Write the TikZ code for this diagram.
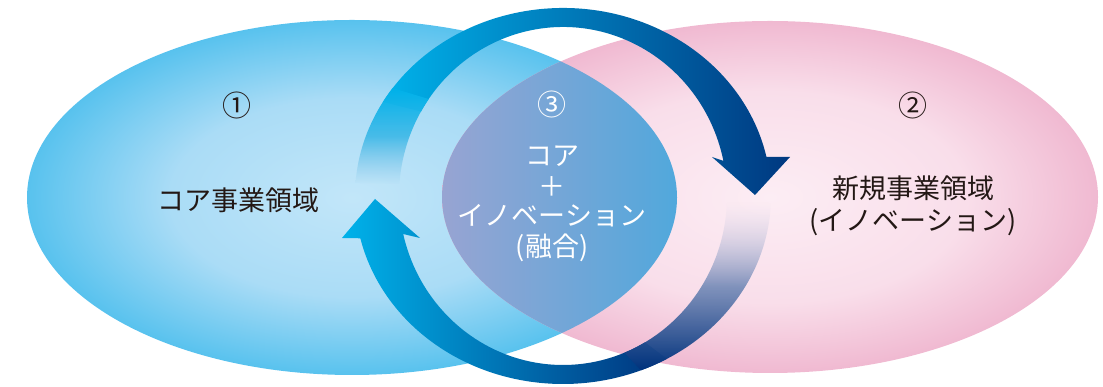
\documentclass[tikz,border=0pt]{standalone}
\usepackage{fontspec}
\setmainfont{Noto Sans CJK JP}
\usetikzlibrary{calc,fadings}
\definecolor{cyanA}{RGB}{0,178,234}
\definecolor{midA}{RGB}{0,166,226}
\definecolor{navyA}{RGB}{0,56,128}
\definecolor{midB}{RGB}{0,82,156}
\definecolor{navyB}{RGB}{0,50,124}
\definecolor{txtdark}{RGB}{35,24,21}
\definecolor{blueIn}{RGB}{194,230,249}
\definecolor{blueMid}{RGB}{170,220,246}
\definecolor{blueOut}{RGB}{88,194,238}
\definecolor{pinkIn}{RGB}{252,237,244}
\definecolor{pinkMid}{RGB}{249,222,234}
\definecolor{pinkOut}{RGB}{240,185,209}
\definecolor{lensL}{RGB}{152,164,210}
\definecolor{lensR}{RGB}{80,168,220}
\definecolor{tailTopM}{RGB}{62,160,210}
\definecolor{tailTopB}{RGB}{120,190,228}
\definecolor{tailBotT}{RGB}{215,215,235}
\definecolor{tailBotM}{RGB}{108,138,188}
\pgfdeclareradialshading{blueell}{\pgfpoint{0bp}{0bp}}{color(0bp)=(blueIn); color(14bp)=(blueMid); color(25bp)=(blueOut); color(50bp)=(blueOut)}
\pgfdeclareradialshading{pinkell}{\pgfpoint{0bp}{0bp}}{color(0bp)=(pinkIn); color(15bp)=(pinkMid); color(25bp)=(pinkOut); color(50bp)=(pinkOut)}
\tikzfading[name=tailfadeT, top color=transparent!0, bottom color=transparent!100, middle color=transparent!10]
\tikzfading[name=tailfadeB, top color=transparent!100, bottom color=transparent!0, middle color=transparent!15]
\begin{document}
\begin{tikzpicture}[x=1pt,y=1pt,
  lbl/.style={font=\fontsize{27pt}{27pt}\selectfont, inner sep=0pt, text height=23.8pt, text depth=3.2pt, text=txtdark},
  lblw/.style={lbl, text=white},
  num/.style={font=\fontsize{29pt}{29pt}\selectfont, inner sep=0pt, text height=25.5pt, text depth=3.5pt, text=txtdark},
  numw/.style={num, text=white},
  topbody/.style={left color=cyanA, middle color=midA, right color=navyA},
  botbody/.style={left color=cyanA, middle color=midB, right color=navyB}
]
\useasboundingbox (0,0) rectangle (1103,387);
% ellipses
\coordinate (cl) at (352,189.5);
\coordinate (cr) at (770,190);
\shade[shading=blueell] (cl) ellipse[x radius=325pt, y radius=177.5pt];
\shade[shading=pinkell] (cr) ellipse[x radius=328pt, y radius=176pt];
% lens
\begin{scope}
  \clip (cl) ellipse[x radius=325pt, y radius=177.5pt];
  \clip (cr) ellipse[x radius=328pt, y radius=176pt];
  \shade[left color=lensL, right color=lensR] (440,0) rectangle (680,387);
\end{scope}
% ring arrows
\coordinate (rc) at (563,191);
\coordinate (hAl) at (712,230);
\coordinate (hAt) at (755,192);
\coordinate (hAr) at (790,230);
\coordinate (hBl) at (342,149);
\coordinate (hBt) at (375,188);
\coordinate (hBr) at (420,149);
% top arc
\shade[topbody] ($(rc)+(150:208pt and 188pt)$) arc[start angle=150, end angle=12, x radius=208pt, y radius=188pt]
  -- (hAr) -- (hAt) -- (hAl)
  -- ($(rc)+(12:164pt and 169pt)$) arc[start angle=12, end angle=150, x radius=164pt, y radius=169pt] -- cycle;
\shade[top color=cyanA, middle color=tailTopM, bottom color=tailTopB, path fading=tailfadeT]
  ($(rc)+(145:208pt and 188pt)$) arc[start angle=145, end angle=176, x radius=208pt, y radius=188pt]
  -- ($(rc)+(176:164pt and 169pt)$) arc[start angle=176, end angle=145, x radius=164pt, y radius=169pt] -- cycle;
% bottom arc
\shade[botbody] (hBl) -- (hBt) -- (hBr)
  -- ($(rc)+(193:164pt and 169pt)$) arc[start angle=193, end angle=300, x radius=164pt, y radius=169pt]
  -- ($(rc)+(300:208pt and 188pt)$) arc[start angle=300, end angle=193, x radius=208pt, y radius=188pt] -- cycle;
\shade[top color=tailBotT, middle color=tailBotM, bottom color=navyB, path fading=tailfadeB]
  ($(rc)+(292:208pt and 188pt)$) arc[start angle=292, end angle=358, x radius=208pt, y radius=188pt]
  -- ($(rc)+(358:164pt and 169pt)$) arc[start angle=358, end angle=292, x radius=164pt, y radius=169pt] -- cycle;
% texts
\node[num] (n1) at (237,281) {①};
\node[lbl] (t1) at (238,187) {コア事業領域};
\node[num] (n2) at (913,281) {②};
\node[lbl] (t2a) at (913,198.5) {新規事業領域};
\node[lbl] (t2b) at (913,167) {(イノベーション)};
\node[numw] (n3) at (552,282) {③};
\node[lblw] (t3a) at (552,232) {コア};
\node[lblw] (t3b) at (552,201) {＋};
\node[lblw] (t3c) at (552,172) {イノベーション};
\node[lblw] (t3d) at (552,141) {(融合)};
\end{tikzpicture}
\end{document}
